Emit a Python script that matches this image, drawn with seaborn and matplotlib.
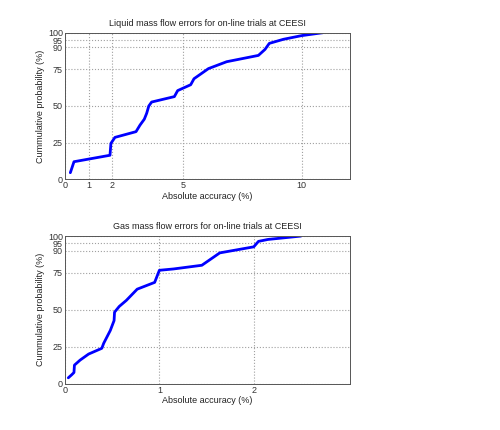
import matplotlib
matplotlib.use("Agg")
import matplotlib.pyplot as plt
import seaborn as sns
import pandas as pd

sns.set_style("white")
plt.rcParams['font.family'] = ['Liberation Sans', 'DejaVu Sans']

liquid_x = [0.225, 0.38, 1.9, 1.94, 2.11, 3.0, 3.17, 3.35, 3.45, 3.54, 3.66, 4.62, 4.76,
            5.31, 5.45, 6.06, 6.83, 8.17, 8.45, 8.63, 9.23, 10.0, 10.9]
liquid_y = [4.5, 12, 16.4, 24.5, 28.6, 32.5, 37, 41, 45, 50, 52.7, 56.4, 60.5,
            64.5, 68.6, 75.5, 80.2, 84.5, 88.6, 92.7, 95.5, 98, 100]

gas_x = [0.035, 0.07, 0.095, 0.1, 0.16, 0.25, 0.39, 0.41, 0.48, 0.52, 0.525, 0.575, 0.65,
         0.765, 0.95, 1.0, 1.15, 1.45, 1.64, 2.0, 2.05, 2.15, 2.5]
gas_y = [3.9, 5.9, 7.5, 12.5, 15.9, 20, 23.9, 27.3, 36, 42.7, 48.4, 52.3, 56.4,
         64, 68.6, 76.8, 77.7, 80.2, 88.6, 92.7, 96.4, 97.7, 100]

yticks = [0, 25, 50, 75, 90, 95, 100]
liquid_xticks = [0, 1, 2, 5, 10]
gas_xticks = [0, 1, 2]

titles = ["Liquid mass flow errors for on-line trials at CEESI",
          "Gas mass flow errors for on-line trials at CEESI"]

fig = plt.figure(figsize=(5, 4.3), dpi=100)
ax1 = fig.add_axes([0.13, 0.583, 0.57, 0.341])
ax2 = fig.add_axes([0.13, 0.108, 0.57, 0.343])

fs = 6.5
for ax, xs, ys, xt, xmax, title in [
    (ax1, liquid_x, liquid_y, liquid_xticks, 12.04, titles[0]),
    (ax2, gas_x, gas_y, gas_xticks, 3.02, titles[1]),
]:
    df = pd.DataFrame({"x": xs, "y": ys})
    sns.lineplot(data=df, x="x", y="y", ax=ax, sort=False, estimator=None,
                 color=(0, 0, 1), linewidth=2.0)
    ax.set_xlim(0, xmax)
    ax.set_ylim(0, 100)
    ax.set_xticks(xt)
    ax.set_yticks(yticks)
    ax.set_xticklabels([str(v) for v in xt])
    ax.set_yticklabels([str(v) for v in yticks])
    ax.grid(True, linestyle=':', color='#a0a0a0', linewidth=0.8)
    ax.tick_params(labelsize=fs, direction='in', length=3, pad=1.5, colors='#333333')
    ax.set_xlabel("Absolute accuracy (%)", fontsize=fs, labelpad=1, color='#222222')
    ax.set_ylabel("Cummulative probability (%)", fontsize=fs, labelpad=2, color='#222222')
    ax.set_title(title, fontsize=fs, pad=5, color='#222222')
    for s in ax.spines.values():
        s.set_color('#555555')
        s.set_linewidth(0.7)

fig.savefig("out.png", dpi=100)
